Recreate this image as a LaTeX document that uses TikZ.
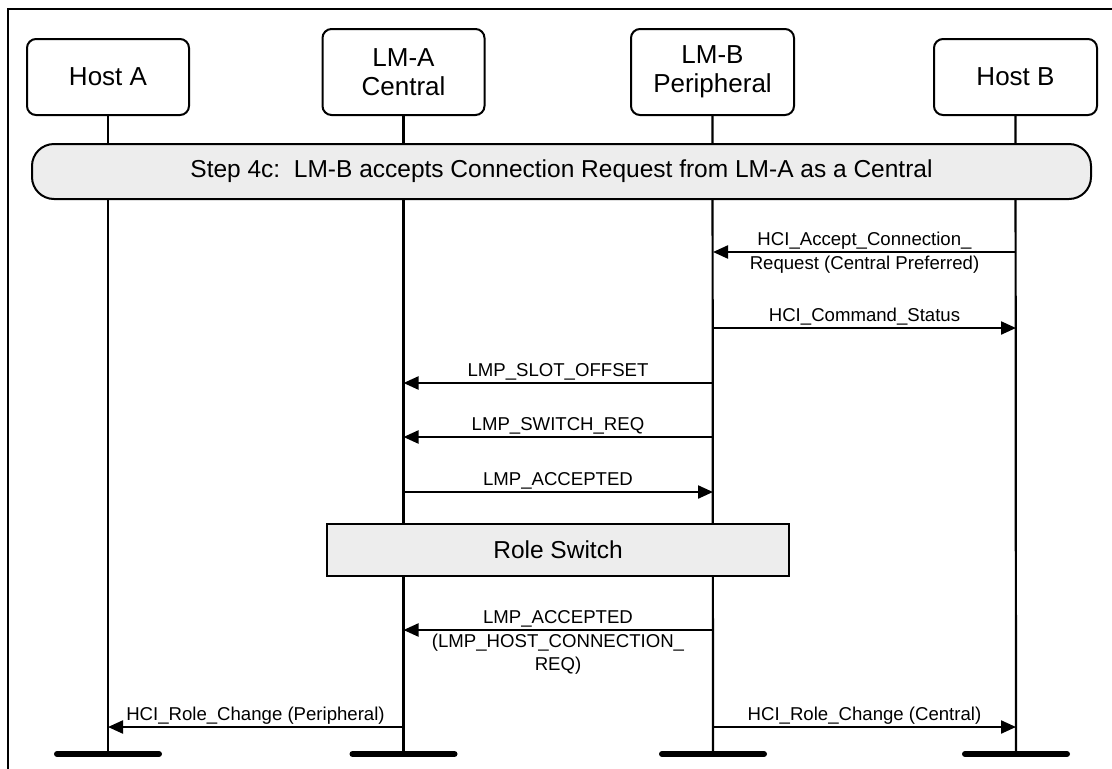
\documentclass[tikz,border=0pt]{standalone}
\usepackage{fontspec}
\setmainfont{Liberation Sans}
\usetikzlibrary{arrows.meta}
\begin{document}
\begin{tikzpicture}[x=1pt,y=-1pt,
 part/.style={draw, line width=2pt, rounded corners=9pt, fill=white, align=center, inner sep=0pt, font=\fontsize{26}{29}\selectfont},
 band/.style={draw, line width=2pt, fill=black!7, inner sep=0pt, font=\fontsize{24.5}{28}\selectfont},
 life/.style={line width=2.2pt},
 bar/.style={line width=6pt, line cap=round},
 msg/.style={line width=2.2pt, -{Triangle[length=15pt,width=13pt]}},
 lbl/.style={font=\fontsize{18.6}{23}\selectfont, inner sep=0pt, align=center},
]
\useasboundingbox (0,0) rectangle (1112,769);
% frame
\draw[line width=2pt] (7.5,769) -- (7.5,8.5) -- (1112,8.5);

% participants
\node[part, minimum width=162pt, minimum height=76pt] (hA) at (108,77) {Host A};
\node[part, minimum width=162pt, minimum height=86pt] (lA) at (403.5,72) {LM-A\\Central};
\node[part, minimum width=163pt, minimum height=86pt] (lB) at (712.5,72) {LM-B\\Peripheral};
\node[part, minimum width=163pt, minimum height=76pt] (hB) at (1015.5,77) {Host B};

% lifeline ends
\coordinate (eA) at (108,754);
\coordinate (eB) at (403.5,754);
\coordinate (eC) at (713,754);
\coordinate (eD) at (1016,754);

\draw[life] (hA.south) -- (eA);
\draw[life] (lA.south) -- (eB);
\draw[life] (lB.south) -- (eC);
\draw[life] (hB.south) -- (eD);

\draw[bar] ([xshift=-51pt]eA) -- ([xshift=51pt]eA);
\draw[bar] ([xshift=-51pt]eB) -- ([xshift=51pt]eB);
\draw[bar] ([xshift=-51pt]eC) -- ([xshift=51pt]eC);
\draw[bar] ([xshift=-51pt]eD) -- ([xshift=51pt]eD);

% bands
\node[band, rounded corners=22pt, minimum width=1059pt, minimum height=55pt] (step) at (561.5,171.5)
  {Step 4c:\ \ LM-B accepts Connection Request from LM-A as a Central};
\node[band, minimum width=462pt, minimum height=52pt] (rs) at (558,550) {Role Switch};

% message end points
\coordinate (m1s) at (1016,252); \coordinate (m1e) at (713,252);
\coordinate (m2s) at (713,328);  \coordinate (m2e) at (1016,328);
\coordinate (m3s) at (713,383);  \coordinate (m3e) at (403.5,383);
\coordinate (m4s) at (713,437);  \coordinate (m4e) at (403.5,437);
\coordinate (m5s) at (403.5,492); \coordinate (m5e) at (713,492);
\coordinate (m6s) at (713,630);  \coordinate (m6e) at (403.5,630);
\coordinate (m7s) at (403.5,727); \coordinate (m7e) at (108,727);
\coordinate (m8s) at (713,727);  \coordinate (m8e) at (1016,727);

\draw[msg] (m1s) -- (m1e);
\draw[msg] (m2s) -- (m2e);
\draw[msg] (m3s) -- (m3e);
\draw[msg] (m4s) -- (m4e);
\draw[msg] (m5s) -- (m5e);
\draw[msg] (m6s) -- (m6e);
\draw[msg] (m7s) -- (m7e);
\draw[msg] (m8s) -- (m8e);

% labels
\node[lbl, anchor=base] (t1a) at (864.5,245.5) {HCI\_Accept\_Connection\_};
\node[lbl, anchor=north] (t1b) at (864.5,256) {Request (Central Preferred)};
\node[lbl, anchor=base] (t2) at (864.5,321) {HCI\_Command\_Status};
\node[lbl, anchor=base] (t3) at (558,376) {LMP\_SLOT\_OFFSET};
\node[lbl, anchor=base] (t4) at (558,430) {LMP\_SWITCH\_REQ};
\node[lbl, anchor=base] (t5) at (558,485) {LMP\_ACCEPTED};
\node[lbl, anchor=base] (t6a) at (558,623) {LMP\_ACCEPTED};
\node[lbl, anchor=north] (t6b) at (558,634) {(LMP\_HOST\_CONNECTION\_\\REQ)};
\node[lbl, anchor=base] (t7) at (255.5,720) {HCI\_Role\_Change (Peripheral)};
\node[lbl, anchor=base] (t8) at (864.5,720) {HCI\_Role\_Change (Central)};
\end{tikzpicture}
\end{document}
